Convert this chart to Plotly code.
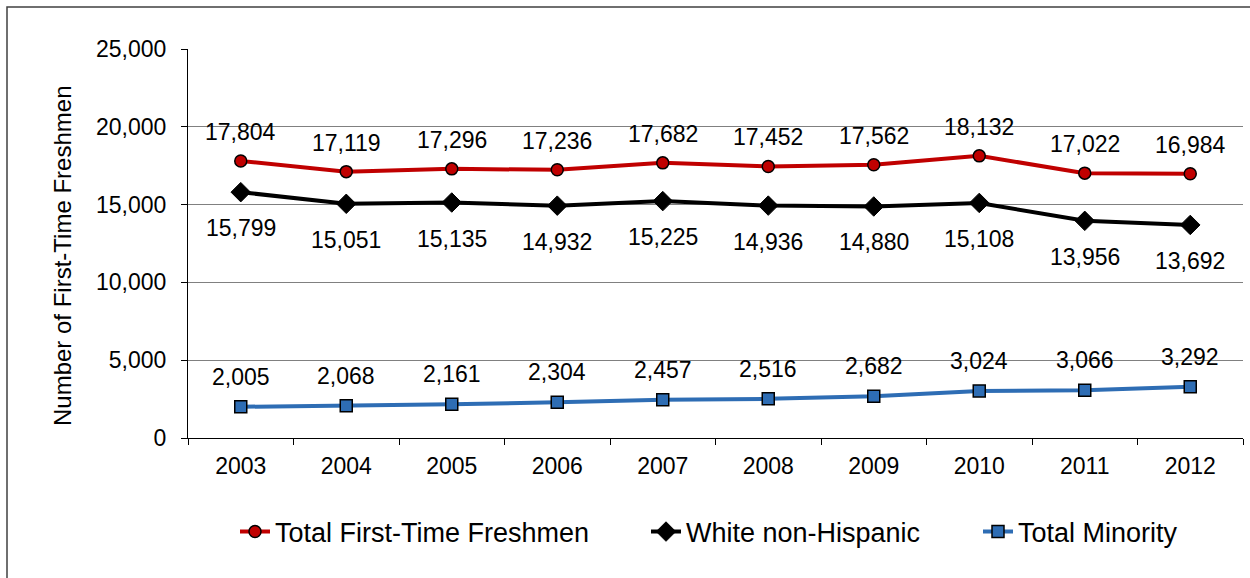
import plotly.graph_objects as go

years = ["2003", "2004", "2005", "2006", "2007", "2008", "2009", "2010", "2011", "2012"]
total = [17804, 17119, 17296, 17236, 17682, 17452, 17562, 18132, 17022, 16984]
white = [15799, 15051, 15135, 14932, 15225, 14936, 14880, 15108, 13956, 13692]
minority = [2005, 2068, 2161, 2304, 2457, 2516, 2682, 3024, 3066, 3292]

FONT = "Liberation Sans, Arial, sans-serif"

L, R, T, B = 188, 7, 49, 140
W, H = 1250, 578
pw, ph = W - L - R, H - T - B

def px2paper_x(px):
    return (px - L) / pw

def px2paper_y(py):
    return (H - B - py) / ph

fig = go.Figure()
fig.add_trace(go.Scatter(
    x=years, y=total, name="Total First-Time Freshmen", mode="lines+markers",
    line=dict(color="#C00000", width=4), legend="legend",
    marker=dict(symbol="circle", size=12, color="#C00000", line=dict(color="black", width=1.5)),
))
fig.add_trace(go.Scatter(
    x=years, y=white, name="White non-Hispanic", mode="lines+markers",
    line=dict(color="black", width=4), legend="legend2",
    marker=dict(symbol="diamond", size=15, color="black", line=dict(color="black", width=1)),
))
fig.add_trace(go.Scatter(
    x=years, y=minority, name="Total Minority", mode="lines+markers",
    line=dict(color="#2E6DB4", width=4), legend="legend3",
    marker=dict(symbol="square", size=12, color="#2E6DB4", line=dict(color="black", width=1.5)),
))

for series, shift in ((total, 29), (white, -36), (minority, 30)):
    for i, v in enumerate(series):
        fig.add_annotation(
            xref="x", yref="y", x=i, y=v, text=f"{v:,}", showarrow=False, yshift=shift,
            font=dict(family=FONT, size=23, color="black"),
            xanchor="center", yanchor="middle",
        )

fig.add_annotation(
    xref="paper", yref="paper", x=px2paper_x(62), y=px2paper_y(256),
    text="Number of First-Time Freshmen", textangle=-90, showarrow=False,
    font=dict(family=FONT, size=24, color="black"), xanchor="center", yanchor="middle",
)

def leg(text_start_px):
    return dict(
        orientation="h", x=px2paper_x(text_start_px - 42), xanchor="left",
        y=px2paper_y(532), yanchor="middle",
        font=dict(family=FONT, size=27, color="black"),
        bgcolor="rgba(0,0,0,0)",
    )

fig.update_layout(
    width=W, height=H,
    margin=dict(l=L, r=R, t=T, b=B),
    paper_bgcolor="white", plot_bgcolor="white",
    font=dict(family=FONT, size=23, color="black"),
    showlegend=True,
    legend=leg(277), legend2=leg(688), legend3=leg(1020),
    shapes=[dict(
        type="rect", xref="paper", yref="paper",
        x0=px2paper_x(7), x1=px2paper_x(1262),
        y0=px2paper_y(7), y1=px2paper_y(595),
        line=dict(color="#404040", width=1.5), fillcolor="rgba(0,0,0,0)",
        layer="below",
    )],
)

fig.update_xaxes(
    type="category", tickson="boundaries", ticks="outside", ticklen=6,
    tickcolor="black", showline=True, linecolor="black", linewidth=1,
    showgrid=False, range=[-0.5, 9.5],
    tickfont=dict(family=FONT, size=23), ticklabelstandoff=7,
)
fig.update_yaxes(
    range=[0, 25000], dtick=5000, tickformat=",d",
    ticks="outside", ticklen=6, tickcolor="black",
    showline=True, linecolor="black", linewidth=1,
    showgrid=True, gridcolor="#808080", gridwidth=1,
    zeroline=False,
    tickfont=dict(family=FONT, size=23), ticklabelstandoff=10,
)

fig.write_html("out.html", config={"displayModeBar": False},
               post_script="document.body.style.margin='0px';")
